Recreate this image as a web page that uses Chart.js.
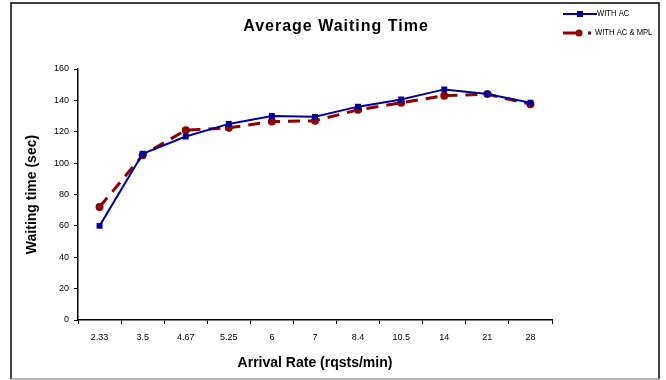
<!DOCTYPE html>
<html>
<head>
<meta charset="utf-8">
<script src="https://cdn.jsdelivr.net/npm/chart.js@4.4.1/dist/chart.umd.min.js"></script>
<style>
  html, body { margin: 0; padding: 0; background: #fff; }
  #wrap { width: 666px; height: 380px; }
</style>
</head>
<body>
<div id="wrap"><canvas id="chart" width="666" height="380"></canvas></div>
<script>
// Arrival rate categories (rqsts/min)
const rates = ["2.33", "3.5", "4.67", "5.25", "6", "7", "8.4", "10.5", "14", "21", "28"];
// Average waiting time (sec)
const withAC = [60, 106, 117, 125, 130, 129.5, 136, 140.5, 147, 144, 138.5];
const withACMPL = [72, 105, 121, 122.5, 126.5, 127, 134, 138.5, 143, 144, 137.5];
const seriesNames = ["WITH AC", "WITH AC & MPL"];
const chartTitle = "Average Waiting Time";

const blue = "#000099";
const red = "#8b0000";
const font = "Arial, 'Liberation Sans', sans-serif";

// frame round the whole picture, title and legend
const framePlugin = {
    id: "frame",
    afterDraw(chart) {
        const ctx = chart.ctx;
        ctx.save();
        ctx.strokeStyle = "#000";
        ctx.lineWidth = 1.5;
        ctx.beginPath();
        ctx.moveTo(11, 379);
        ctx.lineTo(11, 3);
        ctx.lineTo(659, 3);
        ctx.lineTo(659, 379);
        ctx.stroke();
        ctx.strokeStyle = "#999";
        ctx.beginPath();
        ctx.moveTo(11, 379);
        ctx.lineTo(659, 379);
        ctx.stroke();

        // title
        ctx.fillStyle = "#000";
        ctx.font = "bold 16px " + font;
        ctx.textAlign = "center";
        ctx.textBaseline = "middle";
        ctx.letterSpacing = "1px";
        ctx.fillText(chartTitle, 336, 27);
        ctx.letterSpacing = "0px";

        // legend
        ctx.textAlign = "left";
        ctx.font = "9px " + font;
        chart.data.datasets.forEach((ds, i) => {
            const y = 14 + i * 19;
            ctx.strokeStyle = ds.borderColor;
            ctx.fillStyle = ds.borderColor;
            ctx.lineWidth = i === 0 ? 2 : 3;
            ctx.beginPath();
            ctx.moveTo(563, y);
            ctx.lineTo(i === 0 ? 597 : 580, y);
            ctx.stroke();
            if (i === 0) {
                ctx.fillRect(577, y - 3, 6, 6);
            } else {
                ctx.beginPath();
                ctx.arc(579, y, 3.5, 0, Math.PI * 2);
                ctx.fill();
                ctx.fillRect(588, y - 1.5, 3, 3);
            }
            ctx.fillStyle = "#000";
            const tx = i === 0 ? 597 : 595;
            ctx.save();
            ctx.translate(tx, y);
            ctx.scale(0.85, 1);
            ctx.fillText(ds.label, 0, 0);
            ctx.restore();
        });
        ctx.restore();
    }
};

new Chart(document.getElementById("chart"), {
    type: "line",
    data: {
        labels: rates,
        datasets: [
            {
                label: seriesNames[0],
                data: withAC,
                borderColor: blue,
                backgroundColor: blue,
                borderWidth: 2,
                pointStyle: "rect",
                pointRadius: 4.2,
                pointBorderWidth: 0,
                tension: 0,
                order: 1
            },
            {
                label: seriesNames[1],
                data: withACMPL,
                borderColor: red,
                backgroundColor: red,
                borderWidth: 3,
                borderDash: [12, 8],
                pointStyle: "circle",
                pointRadius: 4,
                pointBorderWidth: 0,
                tension: 0,
                order: 2
            }
        ]
    },
    options: {
        responsive: false,
        animation: false,
        layout: { padding: { left: 20, right: 114, top: 69, bottom: 8 } },
        plugins: {
            legend: { display: false },
            tooltip: { enabled: false },
            title: { display: false }
        },
        scales: {
            x: {
                offset: true,
                grid: {
                    display: true,
                    drawOnChartArea: false,
                    offset: true,
                    color: "#000",
                    tickLength: 4,
                    tickColor: "#000"
                },
                border: { color: "#000", width: 1.5 },
                ticks: {
                    color: "#000",
                    font: { family: font, size: 9 },
                    maxRotation: 0,
                    autoSkip: false,
                    padding: 8
                },
                title: {
                    display: true,
                    text: "Arrival Rate (rqsts/min)",
                    color: "#000",
                    font: { family: font, size: 14, weight: "bold" },
                    padding: { top: 4, bottom: 0 }
                },
                afterFit(scale) { scale.height = 52; }
            },
            y: {
                min: 0,
                max: 160,
                grid: {
                    display: true,
                    drawOnChartArea: false,
                    color: "#000",
                    tickLength: 4,
                    tickColor: "#000"
                },
                border: { color: "#000", width: 1.5 },
                ticks: {
                    stepSize: 20,
                    color: "#000",
                    font: { family: font, size: 9 },
                    padding: 5
                },
                title: {
                    display: true,
                    text: "Waiting time (sec)",
                    color: "#000",
                    font: { family: font, size: 14, weight: "bold" },
                    padding: { top: 4, bottom: 8 }
                },
                afterFit(scale) { scale.width = 58; }
            }
        }
    },
    plugins: [framePlugin]
});
</script>
</body>
</html>
